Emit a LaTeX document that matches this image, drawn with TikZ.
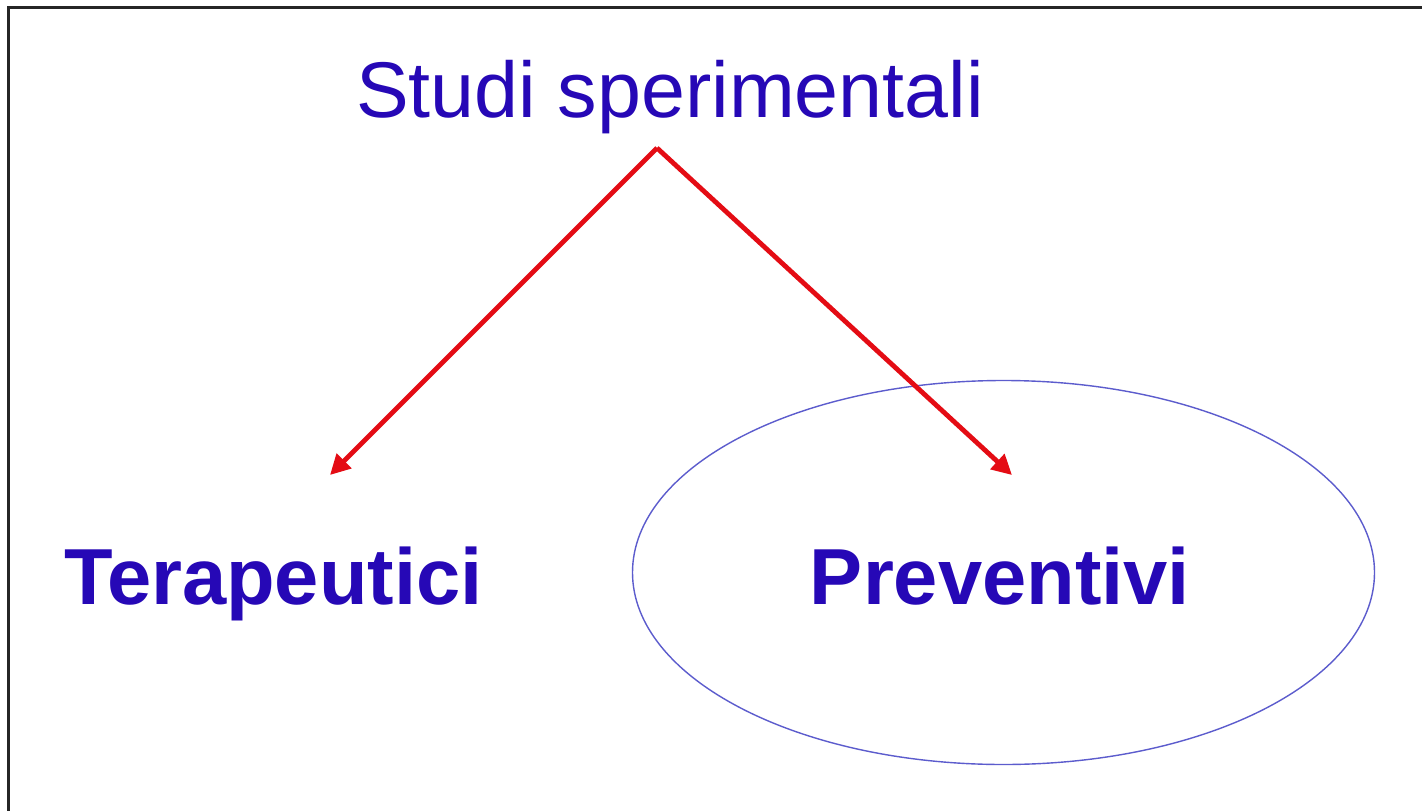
\documentclass[tikz,border=0pt]{standalone}
\usepackage{fontspec}
\setmainfont{Liberation Sans}
\usetikzlibrary{arrows.meta,shapes.geometric}
\definecolor{txtblue}{RGB}{38,8,182}
\definecolor{arrred}{RGB}{228,12,20}
\definecolor{ellblue}{RGB}{92,92,205}
\tikzset{
  title/.style={text=txtblue, font=\fontsize{79}{81}\selectfont, inner sep=0pt, anchor=base},
  leaf/.style={text=txtblue, font=\fontsize{79.5}{81}\selectfont\bfseries, inner sep=0pt, anchor=base},
  redarrow/.style={draw=arrred, line width=4.8pt, -{Triangle[length=20pt,width=20pt]}, line join=miter},
  ringstyle/.style={ellipse, draw=ellblue, line width=1.4pt, minimum width=742pt, minimum height=384pt, inner sep=0pt},
  frame/.style={draw=black!85, line width=3pt}
}
\begin{document}
\begin{tikzpicture}[x=1pt,y=-1pt]
\useasboundingbox (0,0) rectangle (1422,811);
\fill[white] (0,0) rectangle (1422,811);
\coordinate (fb) at (8,813);
\coordinate (fc) at (8,7);
\coordinate (fr) at (1424,7);
\draw[frame] (fb) -- (fc) -- (fr);
\node[ringstyle] (ring) at (1003.5,572.5) {};
\node[title] (top) at (670,117) {Studi sperimentali};
\node[leaf] (ter) at (273.5,604) {Terapeutici};
\node[leaf] (pre) at (1000,604) {Preventivi};
\coordinate (apex) at (657,148);
\coordinate (lt) at (330,475);
\coordinate (rt) at (1012,475);
\draw[redarrow] (apex) -- (lt);
\draw[redarrow] (apex) -- (rt);
\end{tikzpicture}
\end{document}
